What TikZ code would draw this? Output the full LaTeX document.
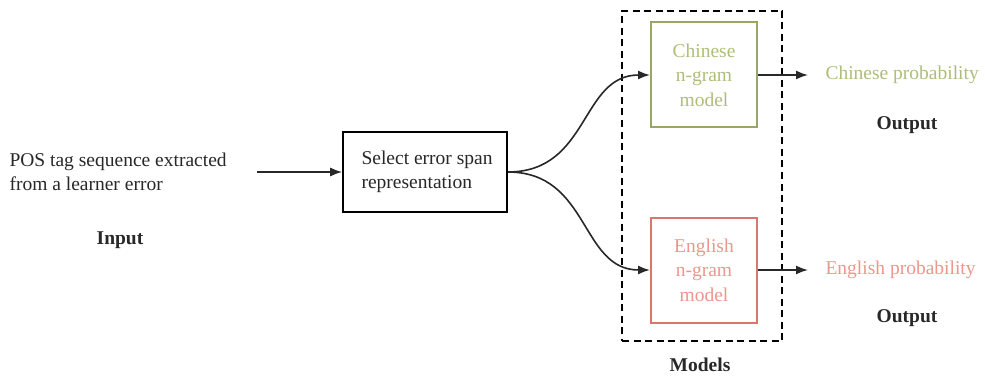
\documentclass[tikz,border=0pt]{standalone}
\usepackage{fontspec}
\setmainfont{Liberation Serif}
\usetikzlibrary{arrows.meta}
\definecolor{cgreen}{RGB}{150,168,100}
\definecolor{cgreentxt}{RGB}{172,190,120}
\definecolor{cred}{RGB}{214,120,108}
\definecolor{credtxt}{RGB}{236,150,140}
\definecolor{ink}{RGB}{40,40,40}
\begin{document}
\begin{tikzpicture}[x=1pt,y=-1pt,
  every node/.style={font=\fontsize{19.5}{24.5}\selectfont, text=ink},
  arr/.style={-{Latex[length=12pt,width=9pt]}, line width=1.6pt, draw=ink},
  modelbox/.style={draw, line width=2pt, minimum width=106pt, minimum height=105pt, align=center, inner sep=0pt},
  bold/.style={font=\fontsize{19.5}{24.5}\selectfont\bfseries}]
\useasboundingbox (0,0) rectangle (985,377);
\node[draw=black, dash pattern=on 7pt off 4.5pt, line width=1.6pt, minimum width=160pt, minimum height=330pt, inner sep=0pt] (models) at (702,176) {};
\node[modelbox, draw=cgreen, text=cgreentxt] (cn) at (704,75) {Chinese\\n-gram\\model};
\node[modelbox, draw=cred, text=credtxt] (en) at (704,270) {English\\n-gram\\model};
\node[draw=black, line width=1.6pt, minimum width=164pt, minimum height=80pt, inner sep=0pt] (sel) at (425,172) {};
\node[anchor=west, align=left] (seltxt) at (358,172) {Select error span\\representation};
\node[anchor=west, align=left] (inp) at (6,172) {POS tag sequence extracted\\from a learner error};
\node[bold] (inlab) at (120,240) {Input};
\node[bold] (modlab) at (700,365) {Models};
\coordinate (inend) at (257,172);
\coordinate (cnend) at (808,75);
\coordinate (enend) at (808,270);
\draw[arr] (inend) -- (sel.west);
\draw[arr] (sel.east) .. controls (590,172) and (580,75) .. (cn.west);
\draw[arr] (sel.east) .. controls (590,172) and (580,270) .. (en.west);
\node[text=cgreentxt, anchor=west] (cnp) at (822,75) {Chinese probability};
\node[text=credtxt, anchor=west] (enp) at (822,270) {English probability};
\node[bold] (out1) at (907,125) {Output};
\node[bold] (out2) at (907,318) {Output};
\draw[arr] (cn.east) -- (cnend);
\draw[arr] (en.east) -- (enend);
\end{tikzpicture}
\end{document}
